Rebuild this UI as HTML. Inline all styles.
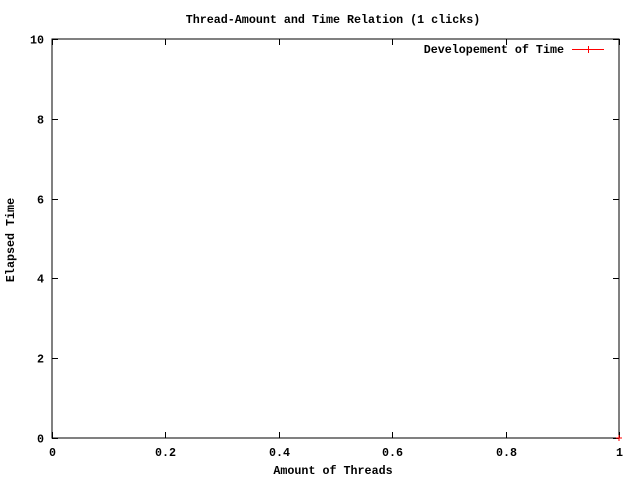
<!DOCTYPE html>
<html><head><meta charset="utf-8"><style>
body{margin:0;background:#fff}
svg{display:block}
text{font-family:"Liberation Mono",monospace;font-size:11.7px;font-weight:bold;fill:#000}
</style></head><body>
<svg id="chart" width="640" height="480">
<rect width="640" height="480" fill="#fff"/>
<text x="333" y="23" text-anchor="middle">Thread-Amount and Time Relation (1 clicks)</text>
<text x="333" y="474" text-anchor="middle">Amount of Threads</text>
<text transform="translate(14,240) rotate(-90)" text-anchor="middle">Elapsed Time</text>
<rect x="52" y="39" width="567" height="399" fill="none" stroke="#000" stroke-width="1"/>
<g id="axes"></g>
<g>
<text x="564" y="53" text-anchor="end">Developement of Time</text>
<line x1="572" y1="49.5" x2="604" y2="49.5" stroke="#f00"/>
<line x1="588.5" y1="46" x2="588.5" y2="53" stroke="#f00"/>
</g>
<g id="series"></g>
</svg>
<script>
const xTicks=[0,0.2,0.4,0.6,0.8,1];
const xTickLabels=["0","0.2","0.4","0.6","0.8","1"];
const yTicks=[0,2,4,6,8,10];
const yTickLabels=["0","2","4","6","8","10"];
const xValues=[1];
const yValues=[0];
const L=52,R=619,T=39,B=438;
function sx(v){return L+(v-0)/(1-0)*(R-L);}
function sy(v){return B-(v-0)/(10-0)*(B-T);}
const NS="http://www.w3.org/2000/svg";
const ax=document.getElementById('axes');
function mk(tag,attrs,parent){const e=document.createElementNS(NS,tag);for(const k in attrs)e.setAttribute(k,attrs[k]);parent.appendChild(e);return e;}
xTicks.forEach((v,i)=>{
  const x=Math.round(sx(v))+0.5;
  const t1=mk('line',{x1:x,y1:B,x2:x,y2:B-6,stroke:'#000'},ax);
  
  
  const t2=mk('line',{x1:x,y1:T,x2:x,y2:T+6,stroke:'#000'},ax);
  
  
  const tx=mk('text',{x:x,y:456,'text-anchor':'middle'},ax);
  tx.textContent=xTickLabels[i];
  
  
});
yTicks.forEach((v,i)=>{
  const y=Math.round(sy(v))+0.5;
  const t1=mk('line',{x1:L,y1:y,x2:L+6,y2:y,stroke:'#000'},ax);
  
  
  const t2=mk('line',{x1:R,y1:y,x2:R-6,y2:y,stroke:'#000'},ax);
  
  
  const tx=mk('text',{x:44,y:y+4,'text-anchor':'end'},ax);
  tx.textContent=yTickLabels[i];
  
  
});
const sr=document.getElementById('series');
xValues.forEach((v,i)=>{
  const x=sx(v),y=sy(yValues[i]);
  const g=mk('path',{d:`M${x-3},${y}H${x+3}M${x},${y-3}V${y+3}`,stroke:'#f00',fill:'none'},sr);
  
  
});
</script>
</body></html>
